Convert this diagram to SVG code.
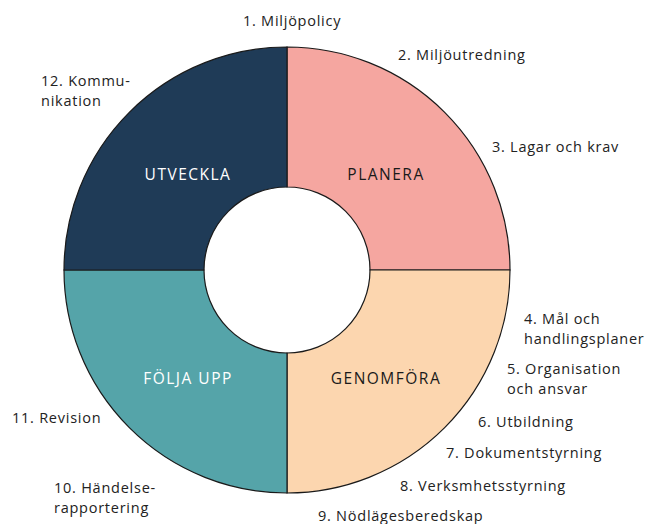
<svg xmlns="http://www.w3.org/2000/svg" width="665" height="524" viewBox="0 0 665 524">
<style>
.q{stroke:#1a1a1a;stroke-width:1.2}
.t{font-family:"Open Sans","Noto Sans",sans-serif;font-size:14.5px;letter-spacing:0.75px;fill:#222}
.h{font-family:"Open Sans","Noto Sans",sans-serif;font-size:15.5px;text-anchor:middle;letter-spacing:1.5px}
</style>
<rect width="665" height="524" fill="#fff"/>
<g id="planera">
<path class="q" fill="#F5A6A0" d="M287,47 A223,223 0 0 1 510,270 L370,270 A83,83 0 0 0 287,187 Z"/>
<text class="h" x="386" y="180" fill="#1a1a1a">PLANERA</text>
</g>
<g id="genomfora">
<path class="q" fill="#FCD6AF" d="M510,270 A223,223 0 0 1 287,493 L287,353 A83,83 0 0 0 370,270 Z"/>
<text class="h" x="386" y="384" fill="#1a1a1a">GENOMFÖRA</text>
</g>
<g id="folja">
<path class="q" fill="#55A4A9" d="M287,493 A223,223 0 0 1 64,270 L204,270 A83,83 0 0 0 287,353 Z"/>
<text class="h" x="188" y="384" fill="#fff">FÖLJA UPP</text>
</g>
<g id="utveckla">
<path class="q" fill="#1F3B57" d="M64,270 A223,223 0 0 1 287,47 L287,187 A83,83 0 0 0 204,270 Z"/>
<text class="h" x="188" y="180" fill="#fff">UTVECKLA</text>
</g>
<g id="labels">
<text class="t" x="243" y="26">1. Miljöpolicy</text>
<text class="t" x="398" y="60">2. Miljöutredning</text>
<text class="t" x="492" y="152">3. Lagar och krav</text>
<text class="t" x="524" y="324">4. Mål och</text>
<text class="t" x="524" y="344">handlingsplaner</text>
<text class="t" x="507" y="374">5. Organisation</text>
<text class="t" x="507" y="394">och ansvar</text>
<text class="t" x="478" y="427">6. Utbildning</text>
<text class="t" x="446" y="458">7. Dokumentstyrning</text>
<text class="t" x="400" y="491">8. Verksmhetsstyrning</text>
<text class="t" x="318" y="521">9. Nödlägesberedskap</text>
<text class="t" x="54" y="493">10. Händelse-</text>
<text class="t" x="54" y="513">rapportering</text>
<text class="t" x="12" y="423">11. Revision</text>
<text class="t" x="41" y="86">12. Kommu-</text>
<text class="t" x="41" y="106">nikation</text>
</g>
</svg>
